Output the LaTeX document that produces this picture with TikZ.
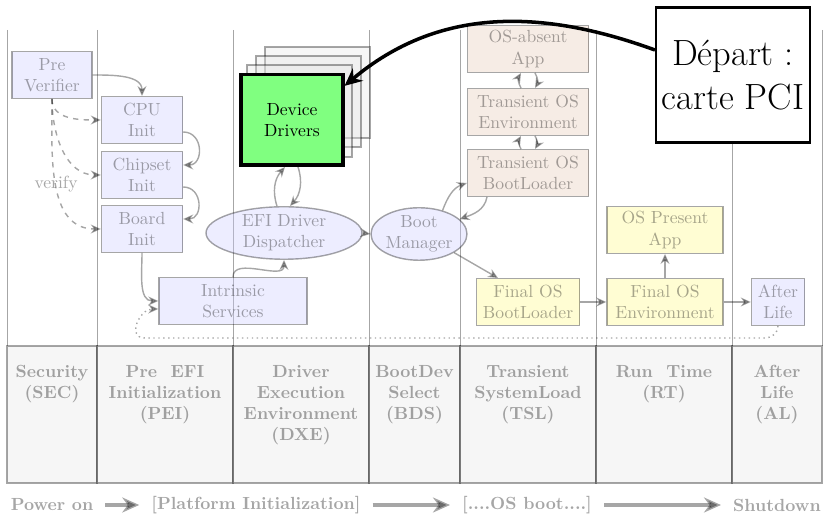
\documentclass[tikz,border=0pt]{standalone}
\usepackage{fontspec}
\usetikzlibrary{arrows, arrows.meta, shapes.geometric, positioning}
\definecolor{tanfill}{RGB}{230,200,180}
\tikzstyle{faded}     = [opacity=0.35]
\tikzstyle{colline}   = [faded, line width=0.5pt]
\tikzstyle{stage}     = [faded, draw=black, thick, align=center, inner sep=1pt, minimum height=9.3mm]
\tikzstyle{bluebox}   = [stage, fill=blue!20]
\tikzstyle{tanbox}    = [stage, fill=tanfill, minimum width=24.2mm]
\tikzstyle{yellowbox} = [stage, fill=yellow!50]
\tikzstyle{blueell}   = [faded, ellipse, draw=black, thick, fill=blue!20, align=center, inner sep=0pt, minimum height=10.5mm]
\tikzstyle{flow}      = [faded, thick, -{Stealth[length=2mm,width=1.8mm]}]
\tikzstyle{phasebox}  = [faded, draw=black, thick, fill=black!10]
\tikzstyle{phasetext} = [faded, font=\bfseries, align=center, anchor=north, inner sep=0pt]
\tikzstyle{shadowbox} = [faded, draw=black, thick, fill=black!10]
\tikzstyle{ddbox}     = [draw=black, line width=2pt, fill=green!50, align=center, minimum width=20.3mm, minimum height=18.1mm]
\tikzstyle{startbox}  = [draw=black, very thick, fill=white, align=center, font=\huge, minimum width=29.6mm, minimum height=27mm]
\tikzstyle{callarrow} = [line width=2pt, -{Stealth[length=3.5mm,width=3.2mm]}]
\tikzstyle{timeline}  = [faded, font=\bfseries]
\tikzstyle{bigarrow}  = [faded, line width=2.5pt, -{Stealth[length=3.4mm,width=3mm]}, shorten <=1.2mm, shorten >=1.2mm]

\begin{document}
\begin{tikzpicture}[x=0.2mm, y=0.2mm]
\useasboundingbox (0,0) rectangle (824,515);

% colonnes
\draw[colline] (7,485) -- (7,169);
\draw[colline] (97,485) -- (97,169);
\draw[colline] (233,485) -- (233,169);
\draw[colline] (369,485) -- (369,169);
\draw[colline] (460,485) -- (460,169);
\draw[colline] (596,485) -- (596,169);
\draw[colline] (732,485) -- (732,169);
\draw[colline] (822,485) -- (822,169);

% phases
\draw[phasebox] (7,169) rectangle (97,32);
\draw[phasebox] (97,169) rectangle (233,32);
\draw[phasebox] (233,169) rectangle (369,32);
\draw[phasebox] (369,169) rectangle (460,32);
\draw[phasebox] (460,169) rectangle (596,32);
\draw[phasebox] (596,169) rectangle (732,32);
\draw[phasebox] (732,169) rectangle (822,32);
\node[phasetext] (sec) at (52,150) {Security\\(SEC)};
\node[phasetext] (pei) at (165,150) {Pre~~EFI\\Initialization\\(PEI)};
\node[phasetext] (dxe) at (301,150) {Driver\\Execution\\Environment\\(DXE)};
\node[phasetext] (bds) at (414.5,150) {BootDev\\Select\\(BDS)};
\node[phasetext] (tsl) at (528,150) {Transient\\SystemLoad\\(TSL)};
\node[phasetext] (rt) at (664,150) {Run~~Time\\(RT)};
\node[phasetext] (afl) at (777,150) {After\\Life\\(AL)};

% ligne du temps
\node[timeline] (pon) at (52,10) {Power on};
\node[timeline] (pinit) at (256,10) {[Platform Initialization]};
\node[timeline] (osboot) at (527,10) {[....OS boot....]};
\node[timeline] (shut) at (777,10) {Shutdown};
\draw[bigarrow] (pon) -- (pinit);
\draw[bigarrow] (pinit) -- (osboot);
\draw[bigarrow] (osboot) -- (shut);

% SEC et PEI
\node[bluebox, minimum width=16mm] (pv) at (52,440) {Pre\\Verifier};
\node[bluebox, minimum width=16.2mm] (cpu) at (142,395) {CPU\\Init};
\node[bluebox, minimum width=16.2mm] (chip) at (142,340) {Chipset\\Init};
\node[bluebox, minimum width=16.2mm] (board) at (142,286) {Board\\Init};
\node[bluebox, minimum width=29.6mm] (intr) at (233,214) {Intrinsic\\Services};

% DXE
\draw[shadowbox] (265,377) rectangle (370,468);
\draw[shadowbox] (256,368) rectangle (361,459);
\draw[shadowbox] (247,358) rectangle (352,450);
\node[ddbox] (drv) at (292,395) {Device\\Drivers};
\node[blueell, minimum width=31.2mm] (disp) at (284,282) {EFI Driver\\Dispatcher};

% BDS
\node[blueell, minimum width=19.2mm] (bm) at (419,281) {Boot\\Manager};

% TSL
\node[tanbox] (osa) at (528,466) {OS-absent\\App};
\node[tanbox] (tenv) at (528,403) {Transient OS\\Environment};
\node[tanbox] (tldr) at (528,342) {Transient OS\\BootLoader};
\node[yellowbox, minimum width=20.6mm] (fldr) at (528,213) {Final OS\\BootLoader};

% RT et AL
\node[yellowbox, minimum width=23.2mm] (osp) at (665,285) {OS Present\\App};
\node[yellowbox, minimum width=23.2mm] (fenv) at (665,213) {Final OS\\Environment};
\node[bluebox, minimum width=10.6mm] (life) at (778,213) {After\\Life};

% flèches PEI
\draw[flow] (pv.east) to[out=0,in=90] (cpu.north);
\draw[flow] ([yshift=-2.4mm]cpu.east) to[out=0,in=0,looseness=1.6] ([yshift=2mm]chip.east);
\draw[flow] ([yshift=-2.4mm]chip.east) to[out=0,in=0,looseness=1.6] ([yshift=2mm]board.east);
\draw[flow,dashed] (pv.south) to[out=-90,in=180] (cpu.west);
\draw[flow,dashed] (pv.south) to[out=-90,in=180] (chip.west);
\draw[flow,dashed] (pv.south) to[out=-90,in=180] node[faded,midway] (ver) {verify} (board.west);
\draw[flow] (board.south) to[out=-90,in=180] (intr.west);

% flèches DXE
\draw[flow] (intr.north) to[out=90,in=-90] (disp.south);
\draw[flow] ([xshift=-1.4mm]disp.north) to[bend left] ([xshift=-1.4mm]drv.south);
\draw[flow] ([xshift=1.2mm]drv.south) to[bend left] ([xshift=1.2mm]disp.north);
\draw[flow] (disp.east) -- (bm.west);

% retour
\coordinate (dotr) at (765,177);
\coordinate (dotl) at (145,177);
\draw[flow,dotted] (life.south) to[out=-90,in=0] (dotr) -- (dotl) to[out=180,in=180,looseness=1.5] ([yshift=-1.6mm]intr.west);

% flèches BDS et TSL
\draw[flow] (bm.45) to[out=70,in=200] ([yshift=-2mm]tldr.west);
\draw[flow] ([xshift=-8.2mm]tldr.south) to[out=-100,in=20] (bm.20);
\draw[flow] ([xshift=-1.4mm]tldr.north) to[bend left] ([xshift=-1.4mm]tenv.south);
\draw[flow] ([xshift=1.4mm]tenv.south) to[bend left] ([xshift=1.4mm]tldr.north);
\draw[flow] ([xshift=-1.4mm]tenv.north) to[bend left] ([xshift=-1.4mm]osa.south);
\draw[flow] ([xshift=1.4mm]osa.south) to[bend left] ([xshift=1.4mm]tenv.north);
\draw[flow] (bm.-28) -- ([xshift=-6mm]fldr.north);

% flèches RT
\draw[flow] (fldr.east) -- (fenv.west);
\draw[flow] (fenv.north) -- (osp.south);
\draw[flow] (fenv.east) -- (life.west);

% départ
\node[startbox] (start) at (733,440) {Départ :\\carte PCI};
\draw[callarrow] ([yshift=5mm]start.west) to[out=160,in=40] (drv.33);

\end{tikzpicture}
\end{document}
